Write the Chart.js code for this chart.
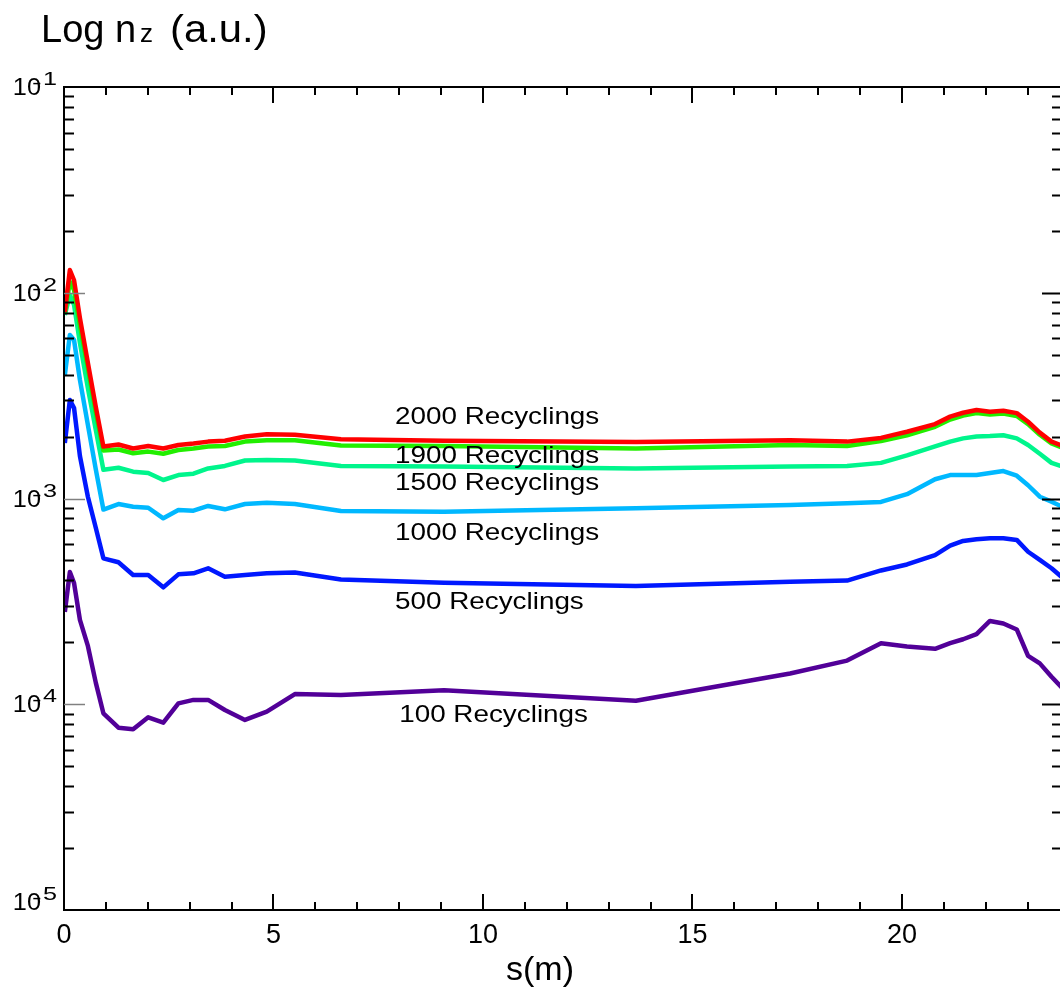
<!DOCTYPE html>
<html>
<head>
<meta charset="utf-8">
<title>Log nz vs s</title>
<script src="https://cdn.jsdelivr.net/npm/chart.js@4.4.1/dist/chart.umd.min.js"></script>
<style>
  html, body { margin: 0; padding: 0; background: #fff; overflow: hidden; }
  canvas { display: block; }
</style>
</head>
<body>
<canvas id="nzChart" width="1080" height="992"></canvas>
<script>
// position along the field line, s (m)
const sPos = [0.02, 0.14, 0.24, 0.38, 0.57, 0.76, 0.94, 1.30, 1.65, 2.01, 2.37, 2.73,
  3.09, 3.44, 3.84, 4.32, 4.84, 5.51, 6.61, 9.07, 13.65, 17.33, 18.69, 19.50,
  20.12, 20.79, 21.15, 21.46, 21.78, 22.10, 22.42, 22.74, 23.01, 23.29, 23.57, 23.84];

// impurity density (a.u.) after N recyclings
const nz2000 = [8.06e-3, 1.29e-2, 1.15e-2, 7.54e-3, 4.56e-3, 2.78e-3, 1.79e-3, 1.83e-3, 1.75e-3, 1.80e-3, 1.75e-3, 1.82e-3,
  1.85e-3, 1.89e-3, 1.91e-3, 2.00e-3, 2.05e-3, 2.04e-3, 1.94e-3, 1.91e-3, 1.88e-3, 1.92e-3, 1.89e-3, 1.97e-3,
  2.11e-3, 2.30e-3, 2.50e-3, 2.61e-3, 2.69e-3, 2.64e-3, 2.67e-3, 2.60e-3, 2.36e-3, 2.09e-3, 1.89e-3, 1.80e-3];
const nz1900 = [7.97e-3, 1.13e-2, 1.03e-2, 6.97e-3, 4.31e-3, 2.63e-3, 1.71e-3, 1.73e-3, 1.66e-3, 1.69e-3, 1.65e-3, 1.72e-3,
  1.75e-3, 1.79e-3, 1.80e-3, 1.89e-3, 1.92e-3, 1.92e-3, 1.81e-3, 1.80e-3, 1.75e-3, 1.82e-3, 1.80e-3, 1.90e-3,
  2.03e-3, 2.23e-3, 2.42e-3, 2.53e-3, 2.60e-3, 2.56e-3, 2.59e-3, 2.52e-3, 2.30e-3, 2.04e-3, 1.85e-3, 1.76e-3];
const nz1500 = [7.79e-3, 9.75e-3, 8.72e-3, 5.70e-3, 3.44e-3, 2.15e-3, 1.38e-3, 1.41e-3, 1.35e-3, 1.33e-3, 1.23e-3, 1.30e-3,
  1.32e-3, 1.40e-3, 1.44e-3, 1.53e-3, 1.54e-3, 1.53e-3, 1.44e-3, 1.43e-3, 1.40e-3, 1.43e-3, 1.44e-3, 1.49e-3,
  1.62e-3, 1.79e-3, 1.89e-3, 1.96e-3, 2.00e-3, 2.01e-3, 2.03e-3, 1.96e-3, 1.82e-3, 1.65e-3, 1.49e-3, 1.43e-3];
const nz1000 = [3.98e-3, 6.23e-3, 5.89e-3, 3.77e-3, 2.28e-3, 1.38e-3, 8.84e-4, 9.40e-4, 9.12e-4, 9.02e-4, 8.01e-4, 8.79e-4,
  8.73e-4, 9.20e-4, 8.86e-4, 9.40e-4, 9.54e-4, 9.40e-4, 8.70e-4, 8.63e-4, 8.96e-4, 9.30e-4, 9.48e-4, 9.62e-4,
  1.05e-3, 1.24e-3, 1.30e-3, 1.30e-3, 1.30e-3, 1.33e-3, 1.36e-3, 1.29e-3, 1.16e-3, 1.02e-3, 9.65e-4, 9.09e-4];
const nz500 = [1.86e-3, 3.01e-3, 2.75e-3, 1.61e-3, 1.02e-3, 7.19e-4, 5.12e-4, 4.90e-4, 4.25e-4, 4.25e-4, 3.70e-4, 4.28e-4,
  4.33e-4, 4.58e-4, 4.17e-4, 4.25e-4, 4.33e-4, 4.37e-4, 4.04e-4, 3.90e-4, 3.76e-4, 3.94e-4, 3.99e-4, 4.47e-4,
  4.78e-4, 5.31e-4, 5.90e-4, 6.22e-4, 6.34e-4, 6.41e-4, 6.41e-4, 6.29e-4, 5.51e-4, 5.03e-4, 4.58e-4, 4.11e-4];
const nz100 = [2.81e-4, 4.39e-4, 3.88e-4, 2.57e-4, 1.92e-4, 1.27e-4, 9.04e-5, 7.69e-5, 7.56e-5, 8.64e-5, 8.14e-5, 1.01e-4,
  1.05e-4, 1.05e-4, 9.38e-5, 8.39e-5, 9.20e-5, 1.12e-4, 1.11e-4, 1.17e-4, 1.04e-4, 1.41e-4, 1.63e-4, 1.98e-4,
  1.91e-4, 1.86e-4, 1.98e-4, 2.07e-4, 2.19e-4, 2.54e-4, 2.47e-4, 2.31e-4, 1.72e-4, 1.58e-4, 1.36e-4, 1.19e-4];

const seriesNames = ["2000 Recyclings", "1900 Recyclings", "1500 Recyclings",
  "1000 Recyclings", "500 Recyclings", "100 Recyclings"];
const xTickLabels = ["0", "5", "10", "15", "20"];
const yDecades = [1, 2, 3, 4, 5]; // labels 10^-1 ... 10^-5

const series = [nz2000, nz1900, nz1500, nz1000, nz500, nz100];
const colors = ["#ff0000", "#22ee00", "#00f58c", "#00b8ff", "#0018ff", "#520098"];

// where each curve's name is written: [s, nz at baseline]
const nameSpots = [[7.9, 2.29e-3], [7.9, 1.48e-3], [7.9, 1.10e-3], [7.9, 6.29e-4], [7.9, 2.90e-4], [8.0, 8.2e-5]];

const FONT = "'Liberation Sans', Arial, Helvetica, sans-serif";

function wideText(ctx, text, x, y, sx, align) {
  ctx.save();
  ctx.translate(x, y);
  ctx.scale(sx, 1);
  ctx.textAlign = align;
  ctx.fillText(text, 0, 0);
  ctx.restore();
}

function seg(ctx, x1, y1, x2, y2) {
  ctx.beginPath();
  ctx.moveTo(x1, y1);
  ctx.lineTo(x2, y2);
  ctx.stroke();
}

// box, inward ticks and all the text
const framePlugin = {
  id: "frame",
  afterDatasetsDraw(chart) {
    const { ctx, chartArea: a } = chart;
    const xs = chart.scales.x, ys = chart.scales.y;
    ctx.save();
    ctx.strokeStyle = "#000";
    ctx.lineWidth = 2;
    ctx.strokeRect(a.left, a.top, a.right - a.left, a.bottom - a.top);

    // s ticks every metre, long ones every 5 m
    for (let s = 0; s <= xs.max; s++) {
      const px = Math.round(xs.getPixelForValue(s));
      const len = s % 5 === 0 ? 16 : 8;
      seg(ctx, px, a.bottom, px, a.bottom - len);
      seg(ctx, px, a.top, px, a.top + len);
    }

    // log ticks
    for (let k = 2; k <= 5; k++) {
      for (let m = 2; m <= 9; m++) {
        const py = Math.round(ys.getPixelForValue(m * Math.pow(10, -k))) + 0.5;
        seg(ctx, a.left, py, a.left + 10, py);
        seg(ctx, a.right, py, a.right - 10, py);
      }
    }
    for (let k = 2; k <= 4; k++) {
      const py = Math.round(ys.getPixelForValue(Math.pow(10, -k))) + 0.5;
      ctx.strokeStyle = "#808080";
      ctx.lineWidth = 1.5;
      seg(ctx, a.left, py, a.left + 21, py);
      ctx.strokeStyle = "#000";
      ctx.lineWidth = 2;
      seg(ctx, a.right, py, a.right - 20, py);
    }

    ctx.fillStyle = "#000";
    ctx.textBaseline = "alphabetic";

    // decade labels: "10" with a raised minus and exponent
    yDecades.forEach(k => {
      const py = ys.getPixelForValue(Math.pow(10, -k));
      const base = Math.min(py + 8, a.bottom);
      ctx.font = "23px " + FONT;
      wideText(ctx, "10", 41, base, 1.1, "right");
      ctx.font = "18px " + FONT;
      wideText(ctx, "-", 32, base - 6, 1.6, "left");
      wideText(ctx, String(k), 43, base - 10, 1.4, "left");
    });

    // s labels
    ctx.font = "27px " + FONT;
    ctx.textAlign = "center";
    xTickLabels.forEach(t => {
      ctx.fillText(t, xs.getPixelForValue(Number(t)), 943);
    });
    ctx.font = "34px " + FONT;
    ctx.fillText("s(m)", 540, 980);

    // y title with subscript
    ctx.textAlign = "left";
    ctx.font = "38px " + FONT;
    ctx.fillText("Log n", 41, 42);
    ctx.font = "26px " + FONT;
    ctx.fillText("z", 140, 42);
    ctx.font = "38px " + FONT;
    wideText(ctx, "(a.u.)", 170, 42, 1.1, "left");

    // curve names
    ctx.font = "24px " + FONT;
    seriesNames.forEach((name, i) => {
      const [s, v] = nameSpots[i];
      wideText(ctx, name, xs.getPixelForValue(s), ys.getPixelForValue(v), 1.16, "left");
    });
    ctx.restore();
  }
};

new Chart(document.getElementById("nzChart"), {
  type: "line",
  data: {
    datasets: series.map((vals, i) => ({
      label: seriesNames[i],
      data: sPos.map((s, j) => ({ x: s, y: vals[j] })),
      borderColor: colors[i],
      borderWidth: 4.5,
      borderJoinStyle: "round",
      pointRadius: 0,
      tension: 0,
      fill: false
    }))
  },
  options: {
    responsive: false,
    animation: false,
    layout: { padding: { left: 64, top: 87, right: 18, bottom: 82 } },
    plugins: { legend: { display: false }, tooltip: { enabled: false } },
    scales: {
      x: { type: "linear", min: 0, max: 23.82, display: false },
      y: { type: "logarithmic", min: 1e-5, max: 1e-1, display: false }
    }
  },
  plugins: [framePlugin]
});
</script>
</body>
</html>
